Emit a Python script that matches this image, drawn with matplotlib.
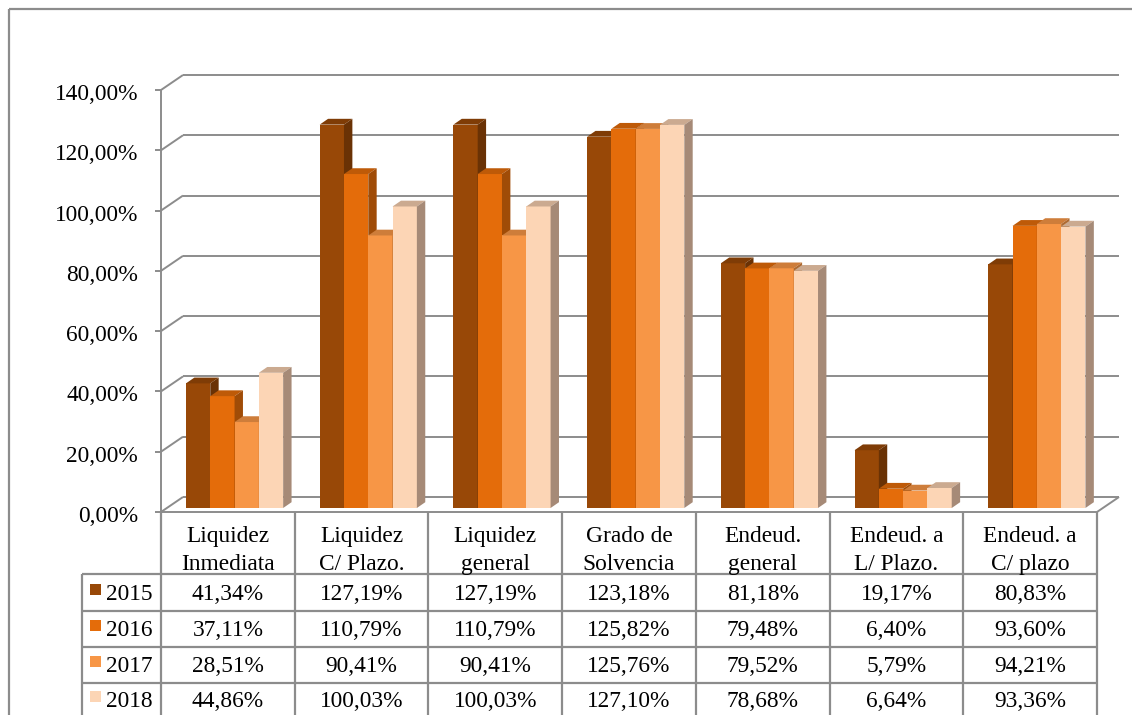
import matplotlib
matplotlib.use("Agg")
import matplotlib.pyplot as plt
from matplotlib.patches import Polygon, Rectangle

plt.rcParams['font.family'] = ['Liberation Serif', 'DejaVu Serif']

categories = [("Liquidez", "Inmediata"), ("Liquidez", "C/ Plazo."), ("Liquidez", "general"),
              ("Grado de", "Solvencia"), ("Endeud.", "general"), ("Endeud. a", "L/ Plazo."),
              ("Endeud. a", "C/ plazo")]
years = ["2015", "2016", "2017", "2018"]
v2015 = [41.34, 127.19, 127.19, 123.18, 81.18, 19.17, 80.83]
v2016 = [37.11, 110.79, 110.79, 125.82, 79.48, 6.40, 93.60]
v2017 = [28.51, 90.41, 90.41, 125.76, 79.52, 5.79, 94.21]
v2018 = [44.86, 100.03, 100.03, 127.10, 78.68, 6.64, 93.36]
series = [v2015, v2016, v2017, v2018]
yticks = [0, 20, 40, 60, 80, 100, 120, 140]

face = ['#984807', '#E46C0A', '#F79646', '#FCD5B5']
top = ['#7F3C06', '#BE5A08', '#CE7D3A', '#CBAA90']
side = ['#6A3205', '#A04C07', '#AE6A31', '#A68A77']
grid = '#8C8C8C'
FS = 16.8

W, H = 1132, 715
fig = plt.figure(figsize=(W / 100, H / 100), dpi=100)

# plot area: front plane from x=161..1097 px, y=512..90 px
x0, x1, y0, y1 = 161, 1097, 512, 90
ax = fig.add_axes([x0 / W, 1 - y0 / H, (x1 - x0) / W, (y0 - y1) / H])
ax.set_xlim(0, 7)
ax.set_ylim(0, 140)
ax.axis('off')

pxx = (x1 - x0) / 7.0
pxy = (y0 - y1) / 140.0
dx, dy = 22 / pxx, 15 / pxy          # wall depth
bx, by = 6.7 / pxx, 4 / pxy          # bar front face offset
sx, sy = 8.4 / pxx, 5.8 / pxy        # bar depth
bw = 24.3 / pxx

kw = dict(color=grid, lw=1.4, clip_on=False, zorder=1, solid_capstyle='butt')
for t in yticks:
    ax.plot([dx, 7 + dx], [t + dy, t + dy], **kw)
    ax.plot([0, dx], [t, t + dy], **kw)
    ax.plot([-6 / pxx, 0], [t, t], **kw)
    ax.annotate(f"{t:.2f}".replace('.', ',') + '%', xy=(0, t), xytext=(-23, -10),
                textcoords='offset pixels', ha='right', va='baseline', fontsize=FS,
                annotation_clip=False)
ax.plot([0, 0], [0, 140], **kw)
ax.plot([0, 7], [0, 0], **kw)
ax.plot([7, 7 + dx], [0, dy], **kw)

for i in range(7):
    left = i + 0.5 - 2 * bw + bx
    for k, vals in enumerate(series):
        v = vals[i]
        xl = left + k * bw
        xr = xl + bw
        ax.add_patch(Rectangle((xl, by), bw, v, fc=face[k], ec='none', zorder=3, clip_on=False))
        ax.add_patch(Polygon([(xl, by + v), (xr, by + v), (xr + sx, by + v + sy), (xl + sx, by + v + sy)],
                             closed=True, fc=top[k], ec='none', zorder=3, clip_on=False))
        ax.add_patch(Polygon([(xr, by), (xr + sx, by + sy), (xr + sx, by + v + sy), (xr, by + v)],
                             closed=True, fc=side[k], ec='none', zorder=3, clip_on=False))

# data table and outer frame in pixel coordinates
tb = fig.add_axes([0, 0, 1, 1])
tb.set_xlim(0, W)
tb.set_ylim(H, 0)
tb.axis('off')
tb.patch.set_alpha(0)

lk = dict(color=grid, lw=1.6, solid_capstyle='butt')
tb.plot([9, 9], [9, H + 2], **lk)
tb.plot([9, W + 2], [9, 9], **lk)

cols = [x0 + i * pxx for i in range(8)]
rows = [574, 611, 647, 683]
legx = 82
for r in rows:
    tb.plot([legx, cols[-1]], [r, r], **lk)
tb.plot([legx, legx], [rows[0], H + 2], **lk)
for c in cols:
    tb.plot([c, c], [y0, H + 2], **lk)

for i, (l1, l2) in enumerate(categories):
    cx = (cols[i] + cols[i + 1]) / 2
    tb.text(cx, 542, l1, ha='center', va='baseline', fontsize=FS)
    tb.text(cx, 570, l2, ha='center', va='baseline', fontsize=FS)

baselines = [600, 635.5, 671.5, 707]
for k, vals in enumerate(series):
    b = baselines[k]
    tb.add_patch(Rectangle((90, b - 16), 11, 11, fc=face[k], ec='none'))
    tb.text(106, b, years[k], ha='left', va='baseline', fontsize=FS)
    for i, v in enumerate(vals):
        cx = (cols[i] + cols[i + 1]) / 2
        tb.text(cx, b, f"{v:.2f}".replace('.', ',') + '%', ha='center', va='baseline', fontsize=FS)

fig.savefig("out.png", dpi=100)
